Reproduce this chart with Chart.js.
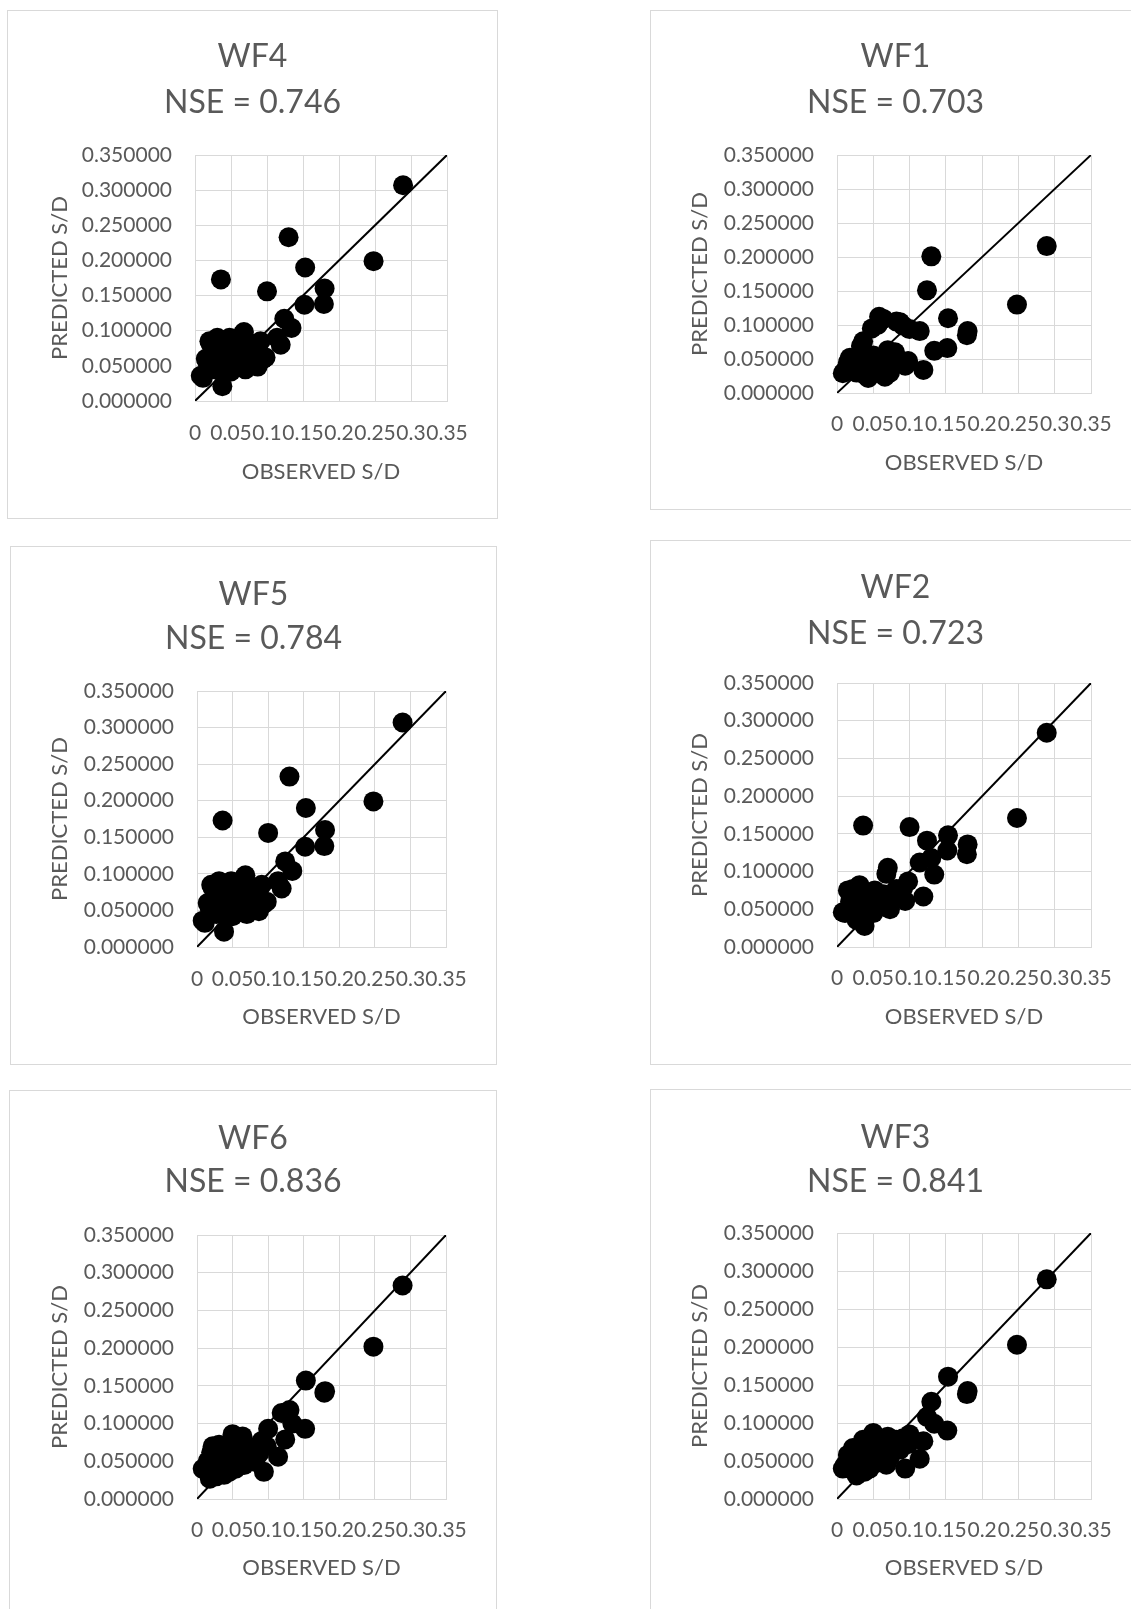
<!DOCTYPE html>
<html>
<head>
<meta charset="utf-8">
<script src="https://cdn.jsdelivr.net/npm/chart.js@4.4.1/dist/chart.umd.min.js"></script>
<style>
  html, body { margin: 0; padding: 0; background: #fff; }
  body { width: 1131px; height: 1609px; overflow: hidden; position: relative; }
  .panel { position: absolute; border: 1px solid #d9d9d9; background: #fff; }
  .panel canvas { display: block; }
</style>
</head>
<body>
<script>
// observed S/D, shared by every wind farm panel
const observedSD = [0.289, 0.248, 0.180, 0.179, 0.153, 0.152, 0.134, 0.130, 0.124, 0.119, 0.114, 0.100, 0.098, 0.094, 0.091, 0.087, 0.082, 0.073, 0.070, 0.068, 0.066, 0.064, 0.058, 0.054, 0.050, 0.048, 0.045, 0.041, 0.038, 0.036, 0.033, 0.031, 0.028, 0.027, 0.022, 0.020, 0.018, 0.011, 0.008, 0.060, 0.076, 0.056, 0.044,
  0.025, 0.035, 0.043, 0.052, 0.062, 0.071, 0.080, 0.015];

// predicted S/D per panel
const predictedWF4 = [0.307, 0.199, 0.160, 0.138, 0.190, 0.137, 0.104, 0.233, 0.117, 0.080, 0.090, 0.156, 0.062, 0.059, 0.085, 0.049, 0.081, 0.052, 0.045, 0.098, 0.095, 0.071, 0.088, 0.053, 0.042, 0.090, 0.066, 0.082, 0.021, 0.173, 0.045, 0.090, 0.062, 0.045, 0.081, 0.085, 0.052, 0.033, 0.036, 0.075, 0.070, 0.060, 0.058,
  0.070, 0.060, 0.078, 0.062, 0.080, 0.062, 0.068, 0.060];
const predictedWF1 = [0.216, 0.130, 0.091, 0.085, 0.110, 0.066, 0.062, 0.201, 0.151, 0.034, 0.091, 0.094, 0.047, 0.040, 0.099, 0.104, 0.105, 0.030, 0.063, 0.045, 0.024, 0.109, 0.112, 0.030, 0.055, 0.095, 0.040, 0.057, 0.027, 0.076, 0.069, 0.035, 0.044, 0.030, 0.050, 0.040, 0.052, 0.033, 0.029, 0.048, 0.052, 0.100, 0.025,
  0.035, 0.042, 0.022, 0.045, 0.036, 0.050, 0.060, 0.045];
const predictedWF5 = [0.307, 0.199, 0.160, 0.138, 0.190, 0.137, 0.104, 0.233, 0.117, 0.080, 0.090, 0.156, 0.062, 0.059, 0.085, 0.049, 0.081, 0.052, 0.045, 0.098, 0.095, 0.071, 0.088, 0.053, 0.042, 0.090, 0.066, 0.082, 0.021, 0.173, 0.045, 0.090, 0.062, 0.045, 0.081, 0.085, 0.052, 0.033, 0.036, 0.075, 0.070, 0.060, 0.058,
  0.070, 0.060, 0.078, 0.062, 0.080, 0.062, 0.068, 0.060];
const predictedWF2 = [0.284, 0.171, 0.136, 0.123, 0.148, 0.128, 0.096, 0.118, 0.141, 0.067, 0.112, 0.159, 0.087, 0.061, 0.078, 0.067, 0.077, 0.050, 0.105, 0.097, 0.062, 0.070, 0.065, 0.060, 0.045, 0.072, 0.058, 0.073, 0.028, 0.161, 0.055, 0.082, 0.050, 0.036, 0.077, 0.070, 0.060, 0.045, 0.046, 0.068, 0.062, 0.052, 0.065,
  0.060, 0.050, 0.065, 0.075, 0.055, 0.065, 0.072, 0.075];
const predictedWF6 = [0.283, 0.202, 0.143, 0.141, 0.157, 0.093, 0.100, 0.118, 0.079, 0.114, 0.056, 0.093, 0.070, 0.036, 0.077, 0.060, 0.049, 0.068, 0.055, 0.072, 0.045, 0.083, 0.062, 0.040, 0.086, 0.050, 0.036, 0.065, 0.032, 0.058, 0.045, 0.072, 0.055, 0.030, 0.070, 0.062, 0.027, 0.040, 0.040, 0.045, 0.058, 0.074, 0.042,
  0.055, 0.068, 0.048, 0.065, 0.052, 0.058, 0.065, 0.050];
const predictedWF3 = [0.289, 0.203, 0.142, 0.138, 0.161, 0.090, 0.099, 0.128, 0.108, 0.076, 0.053, 0.085, 0.072, 0.040, 0.080, 0.065, 0.078, 0.055, 0.082, 0.045, 0.070, 0.060, 0.076, 0.050, 0.087, 0.068, 0.040, 0.058, 0.036, 0.078, 0.050, 0.065, 0.045, 0.031, 0.067, 0.060, 0.040, 0.045, 0.040, 0.075, 0.062, 0.048, 0.070,
  0.050, 0.062, 0.070, 0.058, 0.075, 0.055, 0.068, 0.058];

const panelNames = ["WF4", "WF1", "WF5", "WF2", "WF6", "WF3"];
const nseValues = ["0.746", "0.703", "0.784", "0.723", "0.836", "0.841"];
const predictedByPanel = [predictedWF4, predictedWF1, predictedWF5, predictedWF2, predictedWF6, predictedWF3];

const axisMin = 0;
const axisMax = 0.35;
const axisStep = 0.05;
const xAxisTitle = "OBSERVED S/D";
const yAxisTitle = "PREDICTED S/D";

// page geometry: box = [left, top, right, bottom], plot = chart area
const panelLayout = [
  { box: [7, 10, 498, 519],      plot: [195, 155, 447, 401],   t1: 55,   t2: 101,  xTick: 433,  xTitle: 472,  yTitle: 60 },
  { box: [650, 10, 1141, 510],   plot: [837, 155, 1091, 393],  t1: 55,   t2: 101,  xTick: 424,  xTitle: 463,  yTitle: 700 },
  { box: [10, 546, 497, 1065],   plot: [197, 691, 446, 947],   t1: 593,  t2: 637,  xTick: 979,  xTitle: 1017, yTitle: 60 },
  { box: [650, 540, 1141, 1065], plot: [837, 683, 1091, 947],  t1: 586,  t2: 632,  xTick: 978,  xTitle: 1017, yTitle: 700 },
  { box: [9, 1090, 497, 1640],   plot: [197, 1235, 446, 1499], t1: 1137, t2: 1180, xTick: 1530, xTitle: 1568, yTitle: 60 },
  { box: [650, 1089, 1141, 1640], plot: [837, 1233, 1091, 1499], t1: 1136, t2: 1180, xTick: 1530, xTitle: 1568, yTitle: 700 },
];

const FONT = "Lato, 'Open Sans', sans-serif";
const TEXT = "#595959";
const GRID = "#d9d9d9";
const tickSize = 21;
const axisTitleSize = 22;
const titleSize = 32;

function makePanel(i) {
  const L = panelLayout[i];
  const [bl, bt, br, bb] = L.box;
  const [pl, pt, pr, pb] = L.plot;
  const cl = bl + 1, ct = bt + 1;
  const cw = br - bl - 2, ch = bb - bt - 2;

  const div = document.createElement("div");
  div.className = "panel";
  div.style.left = bl + "px";
  div.style.top = bt + "px";
  div.style.width = cw + "px";
  div.style.height = ch + "px";
  const canvas = document.createElement("canvas");
  canvas.width = cw;
  canvas.height = ch;
  div.appendChild(canvas);
  document.body.appendChild(div);

  const lineGap = L.t2 - L.t1;
  const titleTop = (L.t1 - ct) - lineGap / 2 + 2;
  const titleBottom = (pt - ct) - titleTop - 2 * lineGap;
  const axisLH = axisTitleSize * 1.2;

  const points = observedSD.map((x, k) => ({ x: x, y: predictedByPanel[i][k] }));

  new Chart(canvas, {
    type: "scatter",
    data: {
      datasets: [
        {
          type: "line",
          data: [{ x: axisMin, y: axisMin }, { x: axisMax, y: axisMax }],
          borderColor: "#000",
          borderWidth: 2,
          pointRadius: 0,
          fill: false,
          order: 0,
        },
        {
          data: points,
          backgroundColor: "#000",
          borderWidth: 0,
          pointRadius: 10,
          clip: false,
          order: 1,
        },
      ],
    },
    options: {
      responsive: false,
      animation: false,
      devicePixelRatio: 1,
      layout: { padding: 0 },
      plugins: {
        legend: { display: false },
        tooltip: { enabled: false },
        title: {
          display: true,
          text: [panelNames[i], "NSE = " + nseValues[i]],
          color: TEXT,
          font: { family: FONT, size: titleSize, weight: "normal", lineHeight: lineGap + "px" },
          padding: { top: titleTop, bottom: titleBottom },
        },
      },
      scales: {
        x: {
          type: "linear",
          min: axisMin,
          max: axisMax,
          grid: { color: GRID, drawTicks: false },
          border: { color: GRID },
          ticks: {
            stepSize: axisStep,
            autoSkip: false,
            maxRotation: 0,
            color: TEXT,
            font: { family: FONT, size: tickSize },
            padding: (L.xTick - pb) - tickSize * 0.6,
            callback: (v) => String(Number(v.toFixed(2))),
          },
          title: {
            display: true,
            text: xAxisTitle,
            color: TEXT,
            font: { family: FONT, size: axisTitleSize },
            padding: { top: 0, bottom: (bb - 1 - L.xTitle) - axisLH / 2 },
          },
          afterFit: (s) => { s.height = (bb - 1) - pb; },
        },
        y: {
          type: "linear",
          min: axisMin,
          max: axisMax,
          grid: { color: GRID, drawTicks: false },
          border: { color: GRID },
          ticks: {
            stepSize: axisStep,
            color: TEXT,
            font: { family: FONT, size: tickSize },
            padding: 23,
            callback: (v) => v.toFixed(6),
          },
          title: {
            display: true,
            text: yAxisTitle,
            color: TEXT,
            font: { family: FONT, size: axisTitleSize },
            padding: { top: (L.yTitle - cl) - axisLH / 2, bottom: 0 },
          },
          afterFit: (s) => { s.width = pl - cl; },
        },
        // empty right-hand spacer so the title stays centred on the whole box
        spacer: {
          type: "linear",
          position: "right",
          display: true,
          min: 0,
          max: 1,
          grid: { display: false },
          border: { display: false },
          ticks: { display: false },
          title: { display: false },
          afterFit: (s) => { s.width = (br - 1) - pr; },
        },
      },
    },
  });
}

for (let i = 0; i < panelNames.length; i++) makePanel(i);
</script>
</body>
</html>
